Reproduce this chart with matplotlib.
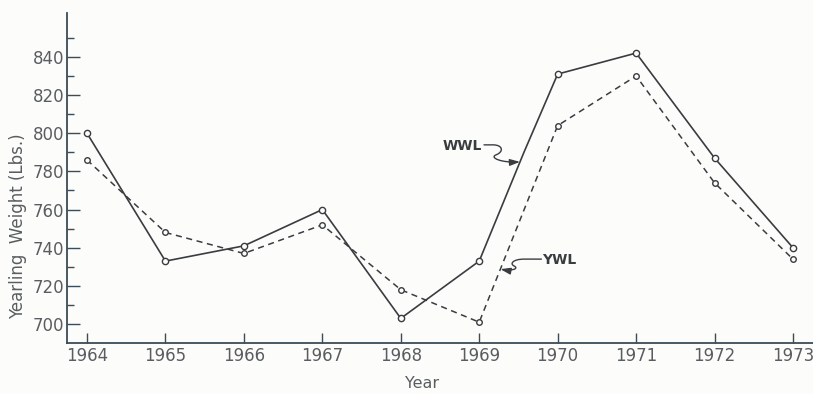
import numpy as np
import matplotlib
matplotlib.use("Agg")
import matplotlib.pyplot as plt
import matplotlib.transforms as mtransforms
from matplotlib.patches import FancyArrowPatch
from matplotlib.path import Path

# yearly weights, in pounds
years = [1964, 1965, 1966, 1967, 1968, 1969, 1970, 1971, 1972, 1973]
wwl = [800, 733, 741, 760, 703, 733, 831, 842, 787, 740]
ywl = [786, 748, 737, 752, 718, 701, 804, 830, 774, 734]

# the WWL line bends once between 1969 and 1970
wwl_bend_year = 1969.57
wwl_bend_value = 790

y_major = [700, 720, 740, 760, 780, 800, 820, 840]
y_minor = [710, 730, 750, 770, 790, 810, 830, 850]

INK = "#3a3d40"
AXIS = "#3c4b57"
TEXT = "#5a5d60"

fig = plt.figure(figsize=(8.13, 3.94), dpi=100, facecolor="#fcfcfb")
ax = fig.add_axes([0.0824, 0.129, 0.9176, 0.838])
ax.set_facecolor("#fcfcfb")

# solid line with its extra bend vertex (no marker on the bend)
wx = years[:6] + [wwl_bend_year] + years[6:]
wy = wwl[:6] + [wwl_bend_value] + wwl[6:]
ax.plot(wx, wy, color=INK, lw=1.2, solid_joinstyle="miter")
ax.plot(years, wwl, ls="none", marker="o", ms=4.5, mfc="#fcfcfb",
        mec=INK, mew=1.0)

ax.plot(years, ywl, color=INK, lw=1.1, ls=(0, (4, 3)), marker="o", ms=4.0,
        mfc="#fcfcfb", mec=INK, mew=1.0)

ax.set_xlim(1963.745, 1973.255)
ax.set_ylim(690, 863)
ax.set_xticks(years)
ax.set_xticklabels([str(y) for y in years])
ax.set_yticks(y_major)
ax.set_yticks(y_minor, minor=True)

for side in ("top", "right"):
    ax.spines[side].set_visible(False)
for side in ("left", "bottom"):
    ax.spines[side].set_color(AXIS)
    ax.spines[side].set_linewidth(1.3)

ax.tick_params(axis="y", which="major", direction="in", length=9, width=1.0,
               color=AXIS, labelcolor=TEXT, labelsize=12, pad=2)
ax.tick_params(axis="y", which="minor", direction="in", length=5, width=1.0,
               color=AXIS)
ax.tick_params(axis="x", which="major", direction="in", length=7, width=1.0,
               color=AXIS, labelcolor=TEXT, labelsize=12, pad=3)

ax.set_ylabel("Yearling  Weight (Lbs.)", color=TEXT, fontsize=12)
ax.yaxis.set_label_coords(-0.053, 0.355)
ax.set_xlabel("Year", color=TEXT, fontsize=11.5)
ax.xaxis.set_label_coords(0.476, -0.10)

CURVE = [Path.MOVETO, Path.LINETO] + [Path.CURVE4] * 6


def squiggle(tip_x, tip_y, verts):
    # verts are pixel offsets from the arrow tip, y pointing down
    trans = (mtransforms.Affine2D().scale(1, -1)
             + mtransforms.ScaledTranslation(tip_x, tip_y, ax.transData))
    arrow = FancyArrowPatch(path=Path(verts, CURVE), transform=trans,
                            arrowstyle="-|>,head_length=6,head_width=2",
                            color=INK, lw=1.0, mutation_scale=1)
    ax.add_patch(arrow)


# WWL label, pointing at the solid line
tx = 1969.52
ty = np.interp(tx, wx, wy)
squiggle(tx, ty,
         [(-36, -17), (-27, -17),
          (-17, -17), (-16, -10), (-24, -7),
          (-31, -4), (-18, 1), (0, 0)])
ax.annotate("WWL", xy=(tx, ty), xytext=(-38, 16), textcoords="offset pixels",
            ha="right", va="center", color=INK, fontsize=10,
            fontweight="bold")

# YWL label, pointing at the dashed line
tx2 = 1969.27
ty2 = np.interp(tx2, years, ywl)
squiggle(tx2, ty2,
         [(41, -10), (24, -10),
          (12, -10), (9, -5), (14, -3),
          (19, 0), (10, 2), (0, 0)])
ax.annotate("YWL", xy=(tx2, ty2), xytext=(42, 9), textcoords="offset pixels",
            ha="left", va="center", color=INK, fontsize=10,
            fontweight="bold")

fig.savefig("out.png", dpi=100, facecolor=fig.get_facecolor())
